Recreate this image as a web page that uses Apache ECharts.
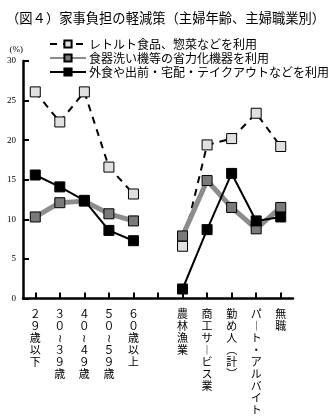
<!DOCTYPE html>
<html>
<head>
<meta charset="utf-8">
<script src="https://cdn.jsdelivr.net/npm/echarts@6/dist/echarts.min.js"></script>
<style>
  html, body { margin: 0; padding: 0; background: #fff; }
  #chart { width: 328px; height: 419px; }
</style>
</head>
<body>
<div id="chart"></div>
<script>
// Categories: five age groups, an empty spacer slot, then five occupation groups
const categories = [
  '２\n９\n歳\n以\n下',
  '３\n０\n≀\n３\n９\n歳',
  '４\n０\n≀\n４\n９\n歳',
  '５\n０\n≀\n５\n９\n歳',
  '６\n０\n歳\n以\n上',
  '',
  '農\n林\n漁\n業',
  '商\n工\nサ\n︱\nビ\nス\n業',
  '勤\nめ\n人\n︵\n計\n︶',
  'パ\n︱\nト\n・\nア\nル\nバ\nイ\nト',
  '無\n職'
];

const seriesNames = [
  'レトルト食品、惣菜などを利用',
  '食器洗い機等の省力化機器を利用',
  '外食や出前・宅配・テイクアウトなどを利用'
];

// Percentages (%); '-' marks the spacer slot
const retortValues = [26.1, 22.3, 26.1, 16.6, 13.2, '-', 6.6, 19.4, 20.2, 23.4, 19.2];
const applianceValues = [10.3, 12.1, 12.3, 10.7, 9.8, '-', 7.9, 14.9, 11.5, 8.8, 11.5];
const eatOutValues = [15.6, 14.1, 12.4, 8.6, 7.3, '-', 1.2, 8.7, 15.8, 9.8, 10.3];

const yTicks = [0, 5, 10, 15, 20, 25, 30];

const serif = '"Liberation Serif", "DejaVu Serif", "Noto Sans CJK JP", serif';
const cjk = '"Noto Sans CJK JP", sans-serif';

const chart = echarts.init(document.getElementById('chart'), null, { renderer: 'canvas' });

chart.setOption({
  animation: false,
  backgroundColor: '#fff',
  title: {
    text: '（図４）家事負担の軽減策（主婦年齢、主婦職業別）',
    left: 1,
    top: 6,
    textStyle: { fontFamily: cjk, fontSize: 13.3, fontWeight: 'normal', color: '#000' }
  },
  legend: {
    orient: 'vertical',
    left: 44,
    top: 32,
    itemWidth: 36,
    itemHeight: 9,
    itemGap: 0,
    textStyle: { fontFamily: cjk, fontSize: 12, lineHeight: 14, color: '#000', padding: [0, 0, 0, -2] },
    data: seriesNames
  },
  grid: { left: 23, right: 35, top: 61, bottom: 120.5, containLabel: false },
  xAxis: {
    type: 'category',
    data: categories,
    boundaryGap: true,
    axisLine: { lineStyle: { color: '#000', width: 2.5 } },
    axisTick: { show: true, inside: true, alignWithLabel: true, length: 6, lineStyle: { color: '#000', width: 2 } },
    axisLabel: {
      interval: 0,
      margin: 9,
      fontFamily: cjk,
      fontSize: 11,
      lineHeight: 12,
      color: '#000',
      align: 'center',
      verticalAlign: 'top'
    }
  },
  yAxis: {
    type: 'value',
    min: 0,
    max: 30,
    interval: 5,
    name: '(%)',
    nameLocation: 'end',
    nameGap: 7,
    nameTextStyle: { fontFamily: serif, fontSize: 9, color: '#000', align: 'right', padding: [0, 0, 0, 0] },
    axisLine: { show: true, lineStyle: { color: '#000', width: 2.5 } },
    axisTick: { show: true, inside: true, length: 6, lineStyle: { color: '#000', width: 2 } },
    splitLine: { show: false },
    axisLabel: {
      margin: 7,
      fontFamily: serif,
      fontSize: 9,
      color: '#000',
      formatter: v => (yTicks.indexOf(v) >= 0 ? String(v) : '')
    }
  },
  series: [
    {
      name: seriesNames[0],
      type: 'line',
      data: retortValues,
      connectNulls: false,
      symbol: 'rect',
      symbolSize: 10,
      lineStyle: { color: '#000', width: 2, type: [7, 6] },
      itemStyle: { color: '#e0e0e0', borderColor: '#000', borderWidth: 1 },
      z: 2
    },
    {
      name: seriesNames[1],
      type: 'line',
      data: applianceValues,
      connectNulls: false,
      symbol: 'rect',
      symbolSize: 10,
      lineStyle: { color: '#8c8c8c', width: 5 },
      itemStyle: { color: '#7a7a7a', borderColor: '#000', borderWidth: 1 },
      z: 3
    },
    {
      name: seriesNames[2],
      type: 'line',
      data: eatOutValues,
      connectNulls: false,
      symbol: 'rect',
      symbolSize: 10,
      lineStyle: { color: '#000', width: 2 },
      itemStyle: { color: '#000', borderColor: '#000', borderWidth: 1 },
      z: 4
    }
  ]
});
</script>
</body>
</html>
